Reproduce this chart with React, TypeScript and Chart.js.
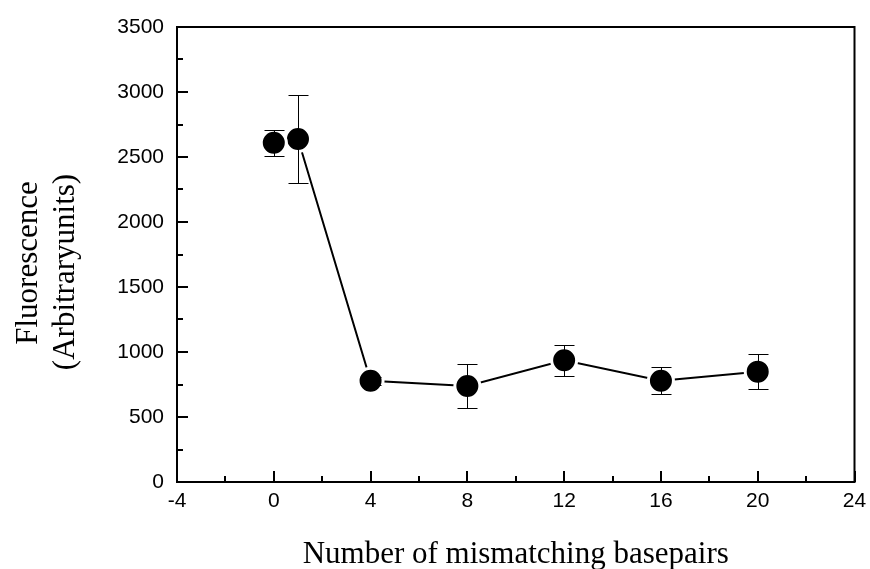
import React, { useEffect, useRef } from "react";
import { Chart, registerables } from "chart.js";

Chart.register(...registerables);

// Data
const mismatches = [0, 1, 4, 8, 12, 16, 20];
const fluorescence = [2610, 2638, 779, 738, 936, 779, 849];
const errors = [100, 338, 30, 166, 120, 105, 133];

const xTitle = "Number of mismatching basepairs";
const yTitleLines = ["Fluorescence", "(Arbitraryunits)"];

const X_MIN = -4;
const X_MAX = 24;
const X_STEP = 4;
const X_MINOR = 2;
const Y_MIN = 0;
const Y_MAX = 3500;
const Y_STEP = 500;
const Y_MINOR = 250;

const framePlugin = {
  id: "frameAndExtras",
  afterDatasetsDraw(chart: any) {
    const ctx = chart.ctx;
    const xs = chart.scales.x;
    const ys = chart.scales.y;
    ctx.save();
    ctx.strokeStyle = "#000";
    ctx.lineWidth = 1;
    for (let i = 0; i < mismatches.length; i++) {
      const px = Math.round(xs.getPixelForValue(mismatches[i])) + 0.5;
      const top = Math.round(ys.getPixelForValue(fluorescence[i] + errors[i])) + 0.5;
      const bot = Math.round(ys.getPixelForValue(fluorescence[i] - errors[i])) + 0.5;
      ctx.beginPath();
      ctx.moveTo(px, top);
      ctx.lineTo(px, bot);
      ctx.moveTo(px - 10, top);
      ctx.lineTo(px + 10, top);
      ctx.moveTo(px - 10, bot);
      ctx.lineTo(px + 10, bot);
      ctx.stroke();
    }
    ctx.restore();
  },
  afterDraw(chart: any) {
    const ctx = chart.ctx;
    const { left, right, top, bottom } = chart.chartArea;
    const xs = chart.scales.x;
    const ys = chart.scales.y;
    ctx.save();
    ctx.strokeStyle = "#000";
    ctx.lineWidth = 2;
    ctx.strokeRect(left, top, right - left, bottom - top);
    ctx.beginPath();
    for (let v = X_MIN; v <= X_MAX; v += X_MINOR) {
      const px = Math.round(xs.getPixelForValue(v));
      const len = v % X_STEP === 0 ? 11 : 6;
      ctx.moveTo(px, bottom);
      ctx.lineTo(px, bottom - len);
    }
    for (let v = Y_MIN; v <= Y_MAX; v += Y_MINOR) {
      const py = Math.round(ys.getPixelForValue(v));
      const len = v % Y_STEP === 0 ? 11 : 6;
      ctx.moveTo(left, py);
      ctx.lineTo(left + len, py);
    }
    ctx.stroke();

    ctx.fillStyle = "#000";
    ctx.font = '31px "Liberation Serif", "Times New Roman", serif';
    ctx.textAlign = "center";
    ctx.textBaseline = "alphabetic";
    ctx.fillText(xTitle, (left + right) / 2, 563);

    const ySpecs = [
      { x: 37, y: 263 },
      { x: 74, y: 272 },
    ];
    yTitleLines.forEach((line, i) => {
      ctx.save();
      ctx.translate(ySpecs[i].x, ySpecs[i].y);
      ctx.rotate(-Math.PI / 2);
      ctx.fillText(line, 0, 0);
      ctx.restore();
    });
    ctx.restore();
  },
};

export default function App() {
  const canvasRef = useRef<HTMLCanvasElement | null>(null);

  useEffect(() => {
    document.body.style.margin = "0";
    const canvas = canvasRef.current;
    if (!canvas) return;

    const firstPoint = [{ x: mismatches[0], y: fluorescence[0] }];
    const linePoints = mismatches.slice(1).map((m, i) => ({ x: m, y: fluorescence[i + 1] }));

    const pointStyle = {
      pointRadius: 12.5,
      pointHoverRadius: 12.5,
      pointBackgroundColor: "#000",
      pointBorderColor: "#fff",
      pointBorderWidth: 3,
    };

    const tickFont = { family: '"Liberation Sans", Arial, sans-serif', size: 21 };

    const chart = new Chart(canvas, {
      type: "scatter",
      data: {
        datasets: [
          { data: firstPoint, showLine: false, ...pointStyle },
          { data: linePoints, showLine: true, borderColor: "#000", borderWidth: 2, ...pointStyle },
        ],
      },
      options: {
        animation: false,
        responsive: false,
        devicePixelRatio: 1,
        layout: { padding: { top: 27, right: 12, left: 0, bottom: 0 } },
        plugins: {
          legend: { display: false },
          tooltip: { enabled: false },
          title: { display: false },
        },
        scales: {
          x: {
            type: "linear",
            min: X_MIN,
            max: X_MAX,
            grid: { display: false, drawTicks: false },
            border: { display: false },
            ticks: {
              stepSize: X_STEP,
              color: "#000",
              padding: 7,
              maxRotation: 0,
              font: tickFont,
              callback: (v: any) => String(v),
            },
            afterFit: (s: any) => {
              s.height = 87;
              s.paddingLeft = 0;
              s.paddingRight = 0;
            },
          },
          y: {
            type: "linear",
            min: Y_MIN,
            max: Y_MAX,
            grid: { display: false, drawTicks: false },
            border: { display: false },
            ticks: {
              stepSize: Y_STEP,
              color: "#000",
              padding: 13,
              font: tickFont,
              callback: (v: any) => String(v),
            },
            afterFit: (s: any) => {
              s.width = 177;
              s.paddingTop = 0;
              s.paddingBottom = 0;
            },
          },
        },
      },
      plugins: [framePlugin],
    });

    return () => chart.destroy();
  }, []);

  return (
    <div style={{ position: "absolute", left: 0, top: 0, width: 870, height: 569, background: "#fff" }}>
      <canvas ref={canvasRef} width={870} height={569} style={{ display: "block" }} />
    </div>
  );
}
